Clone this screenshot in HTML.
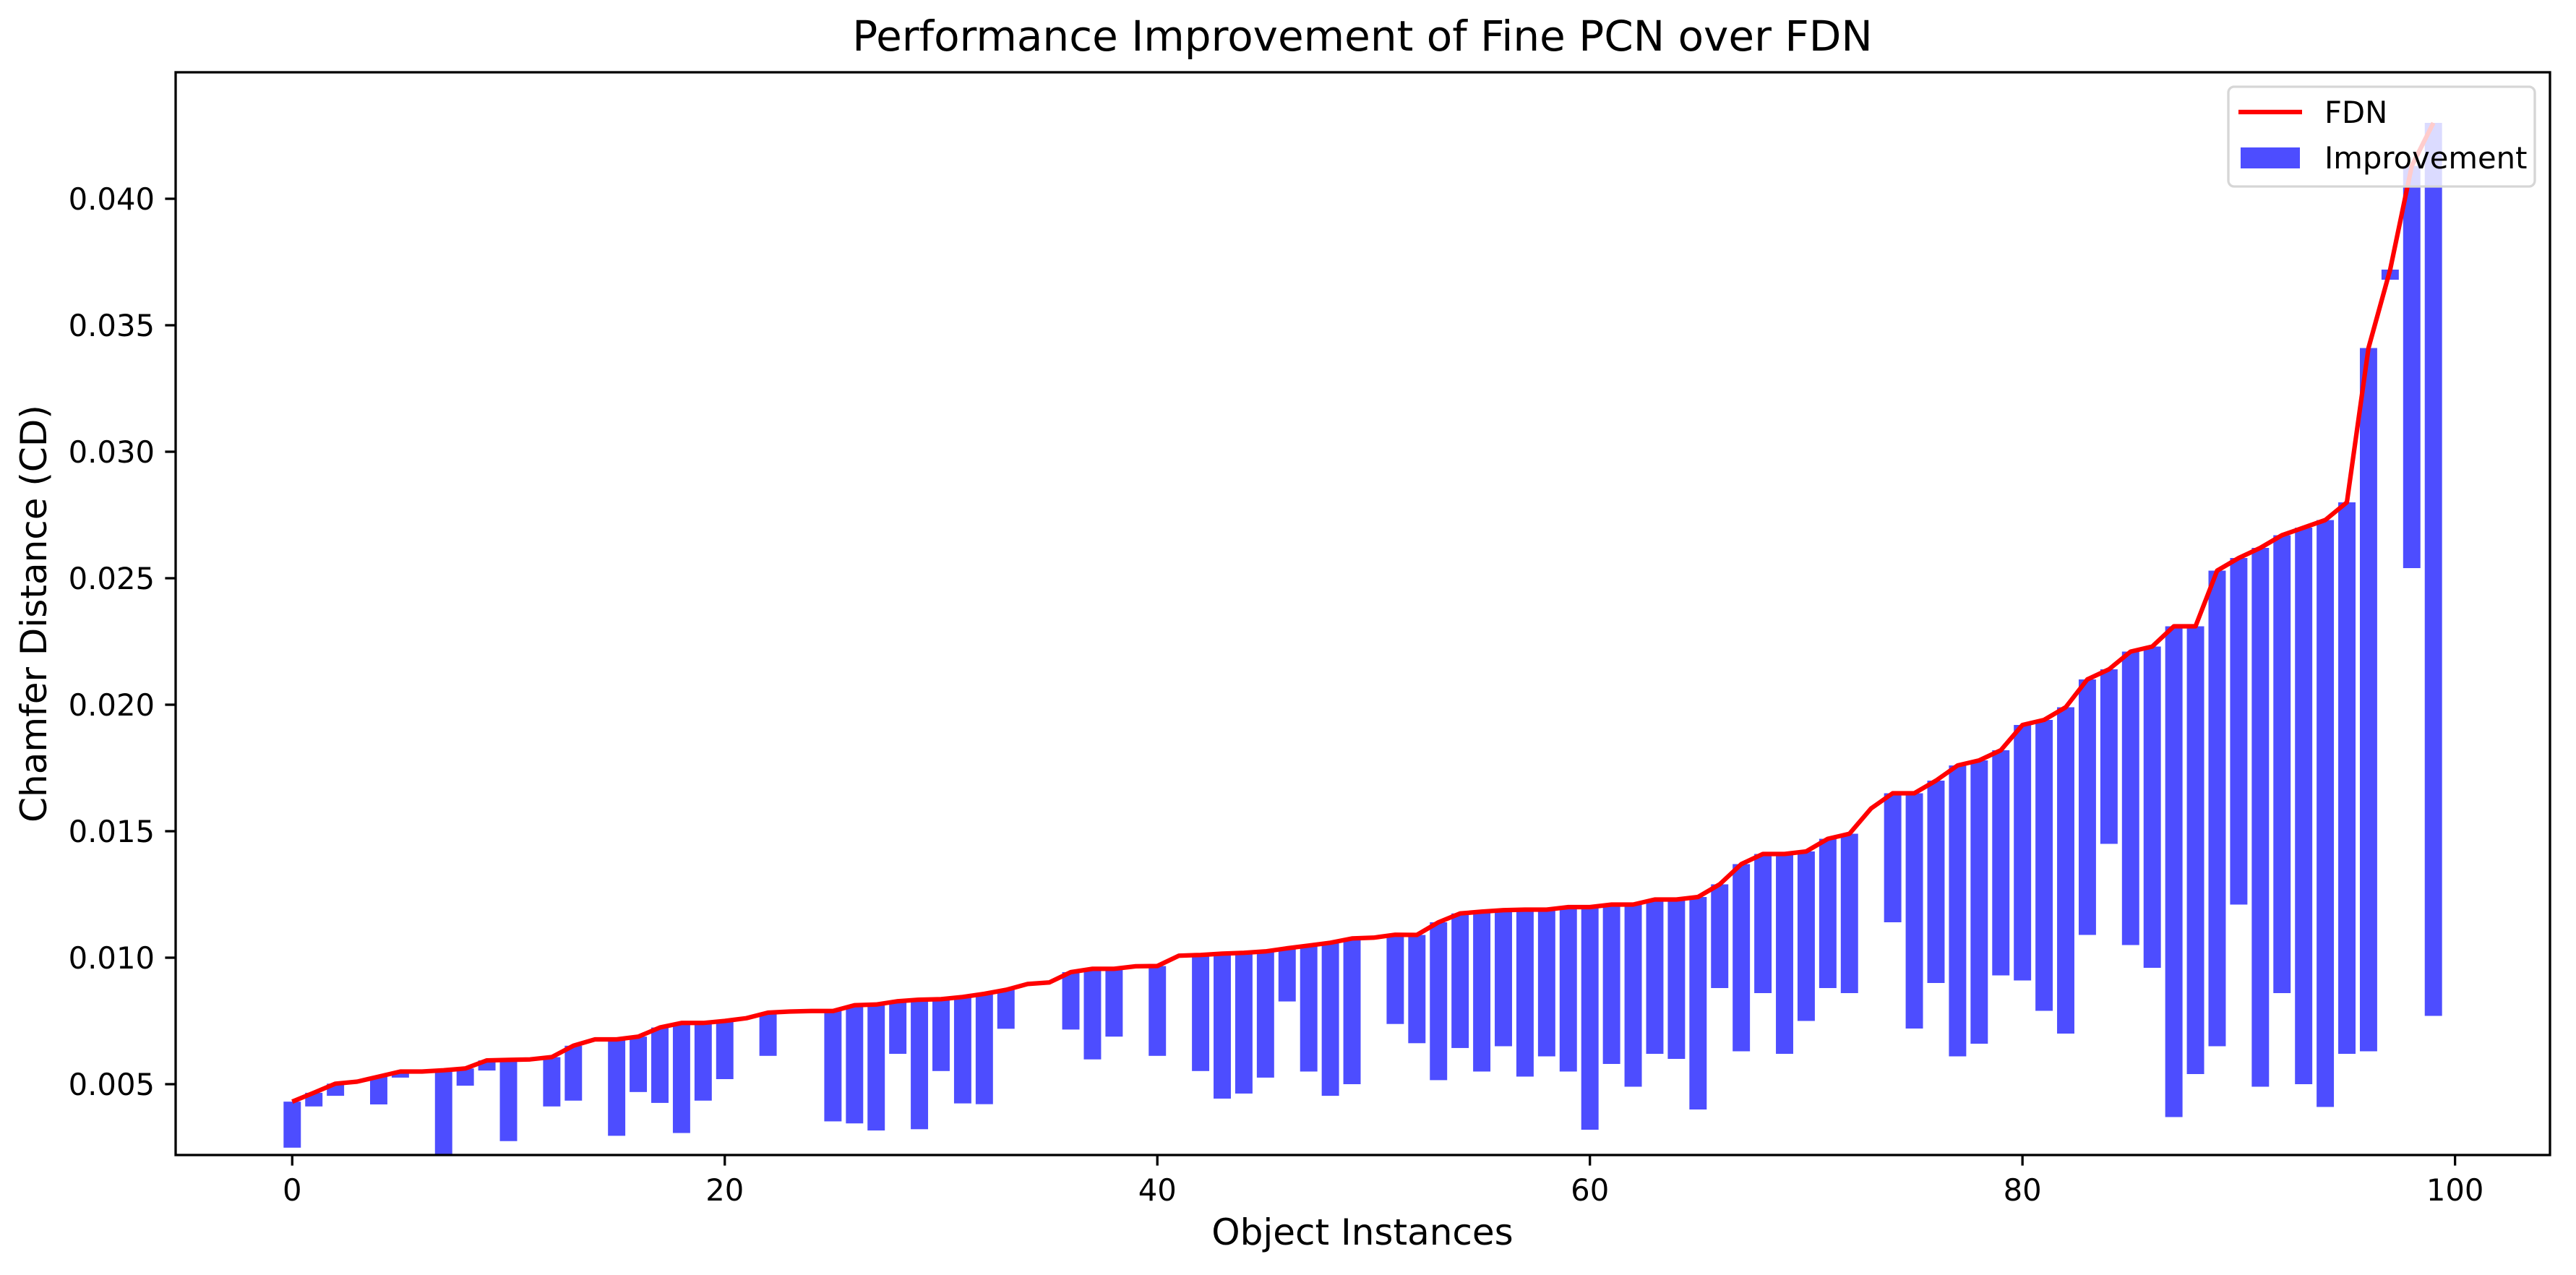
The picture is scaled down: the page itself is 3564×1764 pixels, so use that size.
<!DOCTYPE html>
<html><head><meta charset="utf-8"><style>
html,body{margin:0;padding:0;background:#fff;}
svg{display:block;font-family:"DejaVu Sans","Liberation Sans",sans-serif;}
</style></head><body>
<svg id="chart" width="3564" height="1764" viewBox="0 0 3564 1764" xmlns="http://www.w3.org/2000/svg">
<defs><clipPath id="plotclip"><rect x="243" y="100" width="3285" height="1498"/></clipPath></defs>
<rect x="0" y="0" width="3564" height="1764" fill="#fff"/>
<text x="1885" y="70" font-size="58" text-anchor="middle">Performance Improvement of Fine PCN over FDN</text>
<text x="1885" y="1722" font-size="50" text-anchor="middle">Object Instances</text>
<text x="0" y="0" font-size="50" text-anchor="middle" transform="translate(64,849) rotate(-90)">Chamfer Distance (CD)</text>
<g id="bars" clip-path="url(#plotclip)"></g>
<g id="line" clip-path="url(#plotclip)"></g>
<g id="xticks"></g>
<g id="yticks"></g>
<rect x="243" y="100" width="3285" height="1498" fill="none" stroke="#000" stroke-width="3.3"/>
<g>
<rect x="3083" y="120" width="424" height="138" rx="8" fill="#fff" fill-opacity="0.8" stroke="#d6d6d6" stroke-width="3.3"/>
<line x1="3097" y1="155" x2="3185" y2="155" stroke="#ff0000" stroke-width="6.25"/>
<text x="3216" y="170" font-size="41.7">FDN</text>
<rect x="3100" y="204" width="82" height="29" fill="#4d4dff"/>
<text x="3216" y="233" font-size="41.7">Improvement</text>
</g>
</svg>
<script>
const fdnValues = [0.00431,0.00466,0.00502,0.0051,0.0053,0.0055,0.0055,0.00555,0.00562,0.00594,
0.00596,0.00598,0.00607,0.00652,0.00677,0.00677,0.00688,0.00724,0.00742,0.00742,
0.0075,0.00761,0.00783,0.00787,0.00789,0.00789,0.00812,0.00815,0.00828,0.00834,
0.00836,0.00845,0.00857,0.00873,0.00896,0.00902,0.00943,0.00956,0.00956,0.00966,
0.00967,0.01008,0.01011,0.01016,0.01019,0.01025,0.01037,0.01048,0.01059,0.01076,
0.01079,0.01091,0.0109,0.0114,0.01175,0.01182,0.01188,0.0119,0.0119,0.012,
0.012,0.0121,0.0121,0.0123,0.0123,0.0124,0.0129,0.0137,0.0141,0.0141,
0.0142,0.0147,0.0149,0.0159,0.0165,0.0165,0.017,0.0176,0.0178,0.0182,
0.0192,0.0194,0.0199,0.021,0.0214,0.0221,0.0223,0.0231,0.0231,0.0253,
0.0258,0.0262,0.0267,0.027,0.0273,0.028,0.0341,0.0372,0.0413,0.043];
const finePcnValues = [0.00249,0.00412,0.00454,0.0051,0.0042,0.00526,0.0055,0.0021,0.00494,0.00554,
0.00275,0.00598,0.00412,0.00435,0.00677,0.00296,0.00469,0.00426,0.00307,0.00435,
0.0052,0.00761,0.00612,0.00787,0.00789,0.00353,0.00345,0.00317,0.0062,0.00322,
0.00552,0.00424,0.00421,0.00719,0.00896,0.00902,0.00716,0.00598,0.00688,0.00966,
0.00612,0.01008,0.00552,0.00443,0.00463,0.00526,0.00827,0.0055,0.00454,0.005,
0.01079,0.00738,0.00662,0.00516,0.00643,0.0055,0.0065,0.0053,0.0061,0.0055,
0.0032,0.0058,0.0049,0.0062,0.006,0.004,0.0088,0.0063,0.0086,0.0062,
0.0075,0.0088,0.0086,0.0159,0.0114,0.0072,0.009,0.0061,0.0066,0.0093,
0.0091,0.0079,0.007,0.0109,0.0145,0.0105,0.0096,0.0037,0.0054,0.0065,
0.0121,0.0049,0.0086,0.005,0.0041,0.0062,0.0063,0.0368,0.0254,0.0077];
const xTickLabels = [0,20,40,60,80,100];
const yTickLabels = [0.005,0.010,0.015,0.020,0.025,0.030,0.035,0.040];

const NS='http://www.w3.org/2000/svg';
const PL=243,PR=3528,PT=100,PB=1598;
const XMIN=-5.39,XMAX=104.39,YMIN=0.0022,YMAX=0.045;
function xs(v){return PL+(v-XMIN)/(XMAX-XMIN)*(PR-PL);}
function ys(v){return PB-(v-YMIN)/(YMAX-YMIN)*(PB-PT);}
function mk(tag,attrs){const e=document.createElementNS(NS,tag);for(const k in attrs)e.setAttribute(k,attrs[k]);return e;}

const barsG=document.getElementById('bars');
fdnValues.forEach((f,i)=>{
  const b=finePcnValues[i];
  const y1=ys(f),y2=ys(b);
  const r=mk('rect',{x:xs(i-0.4),y:Math.min(y1,y2),width:xs(0.4)-xs(-0.4),height:Math.abs(y2-y1),fill:'#4d4dff'});
  
  
  barsG.appendChild(r);
});
const pts=fdnValues.map((f,i)=>xs(i).toFixed(1)+','+ys(f).toFixed(1)).join(' ');
const pl=mk('polyline',{points:pts,fill:'none',stroke:'#ff0000','stroke-width':6.25,'stroke-linejoin':'round'});


document.getElementById('line').appendChild(pl);

const xg=document.getElementById('xticks');
xTickLabels.forEach(v=>{
  const x=xs(v);
  const t=mk('line',{x1:x,y1:PB,x2:x,y2:PB+14.6,stroke:'#000','stroke-width':3.3});
  
  
  xg.appendChild(t);
  const l=mk('text',{x:x,y:PB+63,'font-size':41.7,'text-anchor':'middle'});
  l.textContent=String(v);
  
  
  xg.appendChild(l);
});
const yg=document.getElementById('yticks');
yTickLabels.forEach(v=>{
  const y=ys(v);
  const t=mk('line',{x1:PL-14.6,y1:y,x2:PL,y2:y,stroke:'#000','stroke-width':3.3});
  
  
  yg.appendChild(t);
  const l=mk('text',{x:PL-29,y:y+15,'font-size':41.7,'text-anchor':'end'});
  l.textContent=v.toFixed(3);
  
  
  yg.appendChild(l);
});
</script>
</body></html>
